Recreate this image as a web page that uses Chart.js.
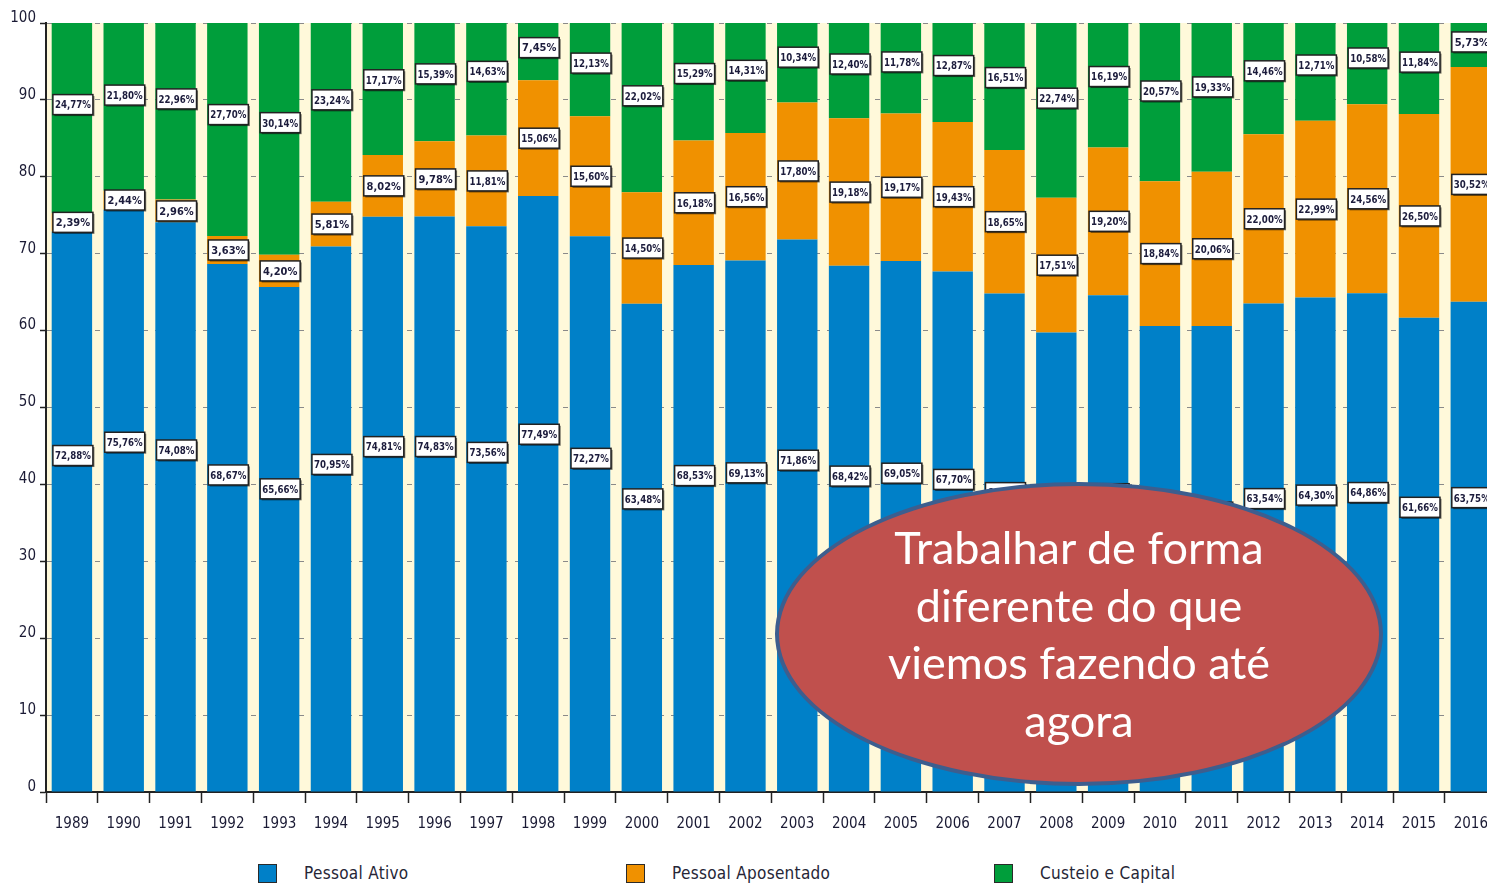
<!DOCTYPE html>
<html>
<head>
<meta charset="utf-8">
<script src="https://cdn.jsdelivr.net/npm/chart.js@4/dist/chart.umd.min.js"></script>
<style>
    html, body { margin: 0; padding: 0; background: #fff; overflow: hidden; }
    #wrap { position: relative; width: 1487px; height: 886px; overflow: hidden; }
    #chart { position: absolute; left: 0; top: 0; }
    #legend { position: absolute; left: 258px; top: 863px; display: flex;
              font: 17px "DejaVu Sans Condensed", "Liberation Sans Narrow", "Liberation Sans", sans-serif;
              letter-spacing: 0.3px; color: #262636; }
    #legend .item { width: 368px; display: flex; align-items: center; }
    #legend .box { width: 17px; height: 17px; border: 1.5px solid #2a2a2a; margin-right: 27px; }
    #bubble { position: absolute; left: 775px; top: 482px; width: 600px; height: 296px;
              border-radius: 50%; background: #C0504D; border: 4px solid #3D5E8E;
              display: flex; align-items: center; justify-content: center; text-align: center;
              color: #fff; font: 45px Lato, "Open Sans", sans-serif; line-height: 57.5px; }
</style>
</head>
<body>
<div id="wrap">
    <canvas id="chart" width="1500" height="850"></canvas>
    <div id="legend"></div>
    <div id="bubble">Trabalhar de forma<br>diferente do que<br>viemos fazendo até<br>agora</div>
</div>
<script>
// anos
const years = ["1989", "1990", "1991", "1992", "1993", "1994", "1995", "1996", "1997", "1998",
               "1999", "2000", "2001", "2002", "2003", "2004", "2005", "2006", "2007", "2008",
               "2009", "2010", "2011", "2012", "2013", "2014", "2015", "2016"];

// % por grupo de despesa
const pessoalAtivo = [72.88, 75.76, 74.08, 68.67, 65.66, 70.95, 74.81, 74.83, 73.56, 77.49,
                      72.27, 63.48, 68.53, 69.13, 71.86, 68.42, 69.05, 67.70, 64.84, 59.75,
                      64.61, 60.59, 60.61, 63.54, 64.30, 64.86, 61.66, 63.75];
const pessoalAposentado = [2.39, 2.44, 2.96, 3.63, 4.20, 5.81, 8.02, 9.78, 11.81, 15.06,
                           15.60, 14.50, 16.18, 16.56, 17.80, 19.18, 19.17, 19.43, 18.65, 17.51,
                           19.20, 18.84, 20.06, 22.00, 22.99, 24.56, 26.50, 30.52];
const custeioCapital = [24.77, 21.80, 22.96, 27.70, 30.14, 23.24, 17.17, 15.39, 14.63, 7.45,
                        12.13, 22.02, 15.29, 14.31, 10.34, 12.40, 11.78, 12.87, 16.51, 22.74,
                        16.19, 20.57, 19.33, 14.46, 12.71, 10.58, 11.84, 5.73];

const yTicks = [0, 10, 20, 30, 40, 50, 60, 70, 80, 90, 100];

const axisFont = { family: '"DejaVu Sans Condensed", "Liberation Sans Narrow", "Liberation Sans", sans-serif', size: 15 };

// fundo creme da área do gráfico
const creamBg = {
    id: "creamBg",
    beforeDraw(chart) {
        const a = chart.chartArea;
        chart.ctx.save();
        chart.ctx.fillStyle = "#FFF9DA";
        chart.ctx.fillRect(a.left, a.top, a.right - a.left, a.bottom - a.top);
        chart.ctx.restore();
    }
};

// caixinhas com os percentuais
const boxLabels = {
    id: "boxLabels",
    afterDatasetsDraw(chart) {
        const ctx = chart.ctx;
        ctx.save();
        chart.data.datasets.forEach((ds, i) => {
            const meta = chart.getDatasetMeta(i);
            meta.data.forEach((bar, j) => {
                const v = ds.data[j];
                const cy = bar.base + (bar.y - bar.base) * ds.labelAt;
                const w = 40, h = 20;
                const x0 = bar.x - w / 2 + 1, y0 = cy - h / 2;
                ctx.fillStyle = "rgba(0,0,0,0.55)";
                ctx.fillRect(x0 + 1.5, y0 + 1.5, w, h);
                ctx.fillStyle = "#fff";
                ctx.fillRect(x0, y0, w, h);
                ctx.lineWidth = 1.5;
                ctx.strokeStyle = "#222";
                ctx.strokeRect(x0, y0, w, h);
                ctx.fillStyle = "#1c1c3c";
                ctx.font = 'bold 11px "Liberation Sans Narrow", "DejaVu Sans Condensed", "Liberation Sans", sans-serif';
                ctx.textAlign = "center";
                ctx.textBaseline = "middle";
                ctx.fillText(v.toFixed(2).replace(".", ",") + "%", x0 + w / 2, y0 + h / 2 + 1, 36);
            });
        });
        ctx.restore();
    }
};

const datasets = [
    { label: "Pessoal Ativo", data: pessoalAtivo, backgroundColor: "#0080C8", labelAt: 0.6 },
    { label: "Pessoal Aposentado", data: pessoalAposentado, backgroundColor: "#F09100", labelAt: 0.5 },
    { label: "Custeio e Capital", data: custeioCapital, backgroundColor: "#009E3B", labelAt: 0.57 }
];

new Chart(document.getElementById("chart"), {
    type: "bar",
    data: {
        labels: years,
        datasets: datasets.map(d => ({ ...d, borderWidth: 0, barPercentage: 0.78, categoryPercentage: 1 }))
    },
    options: {
        responsive: false,
        animation: false,
        layout: { padding: { top: 23, right: 2, left: 0, bottom: 0 } },
        plugins: { legend: { display: false }, tooltip: { enabled: false } },
        scales: {
            x: {
                stacked: true,
                afterFit: s => { s.height = 58; },
                grid: { offset: true, drawOnChartArea: false, tickLength: 11, tickColor: "#222", tickWidth: 1.5 },
                border: { color: "#222", width: 2 },
                ticks: { color: "#1a1a34", font: axisFont, padding: 12, maxRotation: 0, autoSkip: false }
            },
            y: {
                stacked: true,
                min: 0, max: 100,
                afterFit: s => { s.width = 46; },
                afterBuildTicks: s => { s.ticks = yTicks.map(v => ({ value: v })); },
                grid: { color: "#8a8a8a", lineWidth: 1, tickLength: 6, tickColor: "#222", tickWidth: 1.5, tickBorderDash: [] },
                border: { color: "#222", width: 2, dash: [5, 7] },
                ticks: { color: "#1a1a34", font: axisFont, padding: 4, labelOffset: -5 }
            }
        }
    },
    plugins: [creamBg, boxLabels]
});

// legenda embaixo
const legend = document.getElementById("legend");
datasets.forEach(d => {
    const item = document.createElement("div");
    item.className = "item";
    item.innerHTML = `<span class="box" style="background:${d.backgroundColor}"></span><span>${d.label}</span>`;
    legend.appendChild(item);
});
</script>
</body>
</html>
